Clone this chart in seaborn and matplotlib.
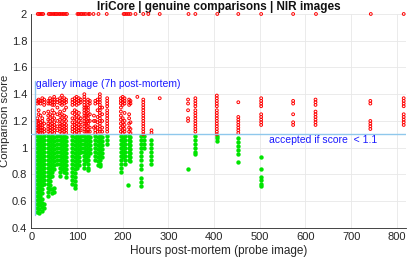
import pandas as pd
import matplotlib
matplotlib.use("Agg")
import matplotlib.pyplot as plt
from matplotlib.ticker import FormatStrFormatter
import seaborn as sns

# accepted comparisons (score < 1.1), one list of scores per probe hour
green_hours = [13, 16, 20, 24, 28, 37, 41, 46, 50, 57, 63, 67, 72, 76, 90, 95, 99, 104, 108,
               116, 120, 124, 128, 140, 145, 150, 155, 166, 196, 200, 204, 211, 214, 217,
               239, 246, 263, 343, 359, 406, 453, 503]
green_scores = [
    [1.09, 1.06, 1.03, 1.00, 0.97, 0.94, 0.91, 0.88, 0.85, 0.82, 0.79, 0.76, 0.73, 0.70, 0.67, 0.64, 0.61, 0.58, 0.55, 0.52],
    [1.08, 1.05, 1.02, 0.99, 0.96, 0.93, 0.90, 0.87, 0.84, 0.81, 0.78, 0.75, 0.72, 0.69, 0.66, 0.63, 0.60, 0.57, 0.54, 0.51],
    [1.09, 1.06, 1.03, 1.00, 0.97, 0.94, 0.91, 0.88, 0.85, 0.82, 0.79, 0.76, 0.73, 0.70, 0.67, 0.64, 0.61, 0.58],
    [1.08, 1.05, 1.02, 0.99, 0.96, 0.93, 0.90, 0.87, 0.84, 0.81, 0.78, 0.75, 0.72, 0.69, 0.66, 0.62, 0.59, 0.56, 0.53],
    [1.09, 1.06, 1.03, 1.00, 0.97, 0.94, 0.91, 0.88, 0.85, 0.82, 0.79, 0.76, 0.73, 0.58, 0.55],
    [1.09, 1.06, 1.03, 1.00, 0.97, 0.94, 0.91, 0.88, 0.85, 0.82, 0.79, 0.76, 0.73, 0.70, 0.67, 0.64],
    [1.08, 1.05, 1.02, 0.99, 0.96, 0.93, 0.90, 0.87, 0.84, 0.81, 0.78, 0.75, 0.72, 0.69],
    [1.09, 1.06, 1.03, 1.00, 0.97, 0.94, 0.91, 0.88, 0.85, 0.82, 0.79, 0.69, 0.66],
    [1.08, 1.05, 1.02, 0.99, 0.96, 0.93, 0.90, 0.87, 0.84, 0.70, 0.67],
    [1.09, 1.06, 1.03, 1.00, 0.97, 0.94, 0.91, 0.88],
    [1.09, 1.06, 1.03, 1.00, 0.97, 0.94, 0.91, 0.88, 0.85, 0.82, 0.79],
    [1.08, 1.05, 1.02, 0.99, 0.96, 0.93, 0.90, 0.87, 0.84],
    [1.09, 1.06, 1.03, 1.00, 0.97, 0.94, 0.91, 0.88, 0.85, 0.82],
    [1.08, 1.05, 1.02, 0.99, 0.96, 0.93, 0.90, 0.87, 0.84, 0.81, 0.78],
    [1.09, 1.06, 1.03, 1.00, 0.97, 0.94, 0.91, 0.88, 0.85, 0.82, 0.79, 0.76, 0.73],
    [1.08, 1.05, 1.02, 0.99, 0.96, 0.93, 0.90, 0.87, 0.84, 0.81, 0.78, 0.75, 0.72, 0.70],
    [1.09, 1.06, 1.03, 1.00, 0.97, 0.94, 0.91, 0.88, 0.85],
    [1.08, 1.05, 1.02, 0.99, 0.96, 0.93, 0.90, 0.87],
    [1.09, 1.06, 1.03, 1.00, 0.97],
    [1.09, 1.06, 1.03, 1.00, 0.97, 0.94, 0.91, 0.88, 0.85],
    [1.08, 1.05, 1.02, 0.99, 0.96, 0.93, 0.90],
    [1.09, 1.06, 1.03, 1.00, 0.97, 0.94, 0.91, 0.88, 0.85, 0.83],
    [1.08, 1.05, 1.02, 0.99, 0.96],
    [1.09, 1.06, 1.03, 1.00, 0.97, 0.94, 0.91],
    [1.08, 1.05, 1.02, 0.99, 0.96, 0.93, 0.90, 0.87],
    [1.09, 1.06, 1.03, 1.00, 0.97, 0.94, 0.91, 0.88, 0.86],
    [1.08, 1.05, 1.02, 0.99, 0.96, 0.93],
    [1.09, 1.06, 1.03],
    [1.09, 1.06, 1.03, 1.00, 0.97, 0.94, 0.91, 0.88, 0.85, 0.82],
    [1.08, 1.05, 1.02, 0.99, 0.96, 0.93],
    [1.09, 1.06, 1.03, 1.00, 0.97, 0.94, 0.91, 0.88],
    [0.72],
    [1.09, 1.06, 1.03, 1.00, 0.97, 0.94, 0.91],
    [1.08, 1.05, 1.02, 0.99, 0.96, 0.93, 0.90],
    [1.09, 1.06, 1.03, 1.00, 0.97, 0.94, 0.91, 0.87, 0.84, 0.77, 0.74, 0.71],
    [1.09, 1.06, 1.03, 1.00],
    [1.06, 1.03, 1.00, 0.97, 0.94, 0.91, 0.88],
    [0.84],
    [1.09, 1.06, 1.03, 1.00, 0.97, 0.95],
    [1.09, 1.07, 1.05],
    [1.07, 1.04, 1.01, 0.98, 0.95, 0.89],
    [0.93, 0.84, 0.78, 0.76, 0.73, 0.71],
]

# rejected comparisons (score >= 1.1)
red_hours = [13, 16, 20, 24, 28, 37, 41, 46, 50, 57, 63, 67, 72, 76, 90, 95, 99, 104, 108,
             116, 120, 124, 128, 137, 140, 145, 150, 155, 166, 196, 200, 204, 214, 217,
             232, 245, 263, 281, 343, 359, 406, 453, 503, 573, 622, 742, 815]
red_scores = [
    [1.35, 1.33, 1.22, 1.20, 1.17, 1.15, 1.13, 1.11],
    [1.36, 1.34, 1.28, 1.25, 1.20, 1.18, 1.16, 1.14, 1.12],
    [1.35, 1.33, 1.24, 1.19, 1.17, 1.15, 1.13, 1.11],
    [1.37, 1.35, 1.22, 1.20, 1.17, 1.15, 1.13, 1.11],
    [1.36, 1.34, 1.32, 1.26, 1.18, 1.14, 1.12],
    [1.35, 1.33, 1.27, 1.24, 1.21, 1.18, 1.16, 1.14, 1.12],
    [1.37, 1.35, 1.33, 1.25, 1.22, 1.20, 1.17, 1.15, 1.13, 1.11],
    [1.36, 1.34, 1.32, 1.28, 1.24, 1.21, 1.18, 1.16, 1.14, 1.12],
    [1.38, 1.36, 1.34, 1.32, 1.26, 1.22, 1.19, 1.17, 1.15, 1.13, 1.11],
    [1.36, 1.34, 1.30, 1.25, 1.20, 1.16, 1.13],
    [1.37, 1.35, 1.33, 1.27, 1.24, 1.21, 1.18, 1.16, 1.14, 1.12],
    [1.39, 1.36, 1.34, 1.32, 1.25, 1.22, 1.19, 1.17, 1.15, 1.13, 1.11],
    [1.37, 1.35, 1.33, 1.28, 1.24, 1.21, 1.18, 1.16, 1.14, 1.12],
    [1.36, 1.34, 1.30, 1.23, 1.20, 1.17, 1.15, 1.13, 1.11],
    [1.36, 1.34, 1.32, 1.26, 1.22, 1.19, 1.16, 1.14, 1.12],
    [1.37, 1.35, 1.33, 1.28, 1.25, 1.22, 1.19, 1.17, 1.15, 1.13, 1.11],
    [1.38, 1.36, 1.34, 1.32, 1.27, 1.24, 1.21, 1.18, 1.16, 1.14, 1.12],
    [1.37, 1.35, 1.33, 1.26, 1.23, 1.20, 1.17, 1.15, 1.13, 1.11],
    [1.36, 1.34, 1.22, 1.19, 1.16, 1.13],
    [1.40, 1.38, 1.36, 1.34, 1.32, 1.30, 1.28, 1.26, 1.24, 1.22, 1.20, 1.18, 1.16, 1.14, 1.12],
    [1.30, 1.27, 1.24, 1.21, 1.18, 1.15, 1.12],
    [1.36, 1.34, 1.32, 1.30, 1.28, 1.26, 1.24, 1.22, 1.20, 1.18, 1.16, 1.14, 1.12],
    [1.35, 1.33, 1.25, 1.20, 1.15, 1.12],
    [1.24, 1.20, 1.15],
    [1.35, 1.33, 1.20, 1.16, 1.13, 1.11],
    [1.36, 1.34, 1.28, 1.23, 1.19, 1.15, 1.12],
    [1.40, 1.38, 1.36, 1.34, 1.32, 1.30, 1.28, 1.26, 1.24, 1.22, 1.20, 1.18, 1.16, 1.14, 1.12],
    [1.30, 1.25, 1.20, 1.15, 1.12],
    [1.37, 1.35, 1.33, 1.31, 1.28, 1.26, 1.24, 1.22, 1.20, 1.18, 1.16, 1.14, 1.12],
    [1.37, 1.35, 1.33, 1.30, 1.27, 1.24, 1.21, 1.18, 1.15, 1.12],
    [1.38, 1.36, 1.34, 1.32, 1.22, 1.19, 1.16, 1.13, 1.11],
    [1.37, 1.35, 1.33, 1.26, 1.20, 1.17, 1.14, 1.12],
    [1.36, 1.34, 1.32, 1.25, 1.22, 1.18, 1.15, 1.12],
    [1.35, 1.33, 1.19, 1.14, 1.11],
    [1.38],
    [1.36, 1.34, 1.32, 1.30, 1.28, 1.26, 1.24, 1.22, 1.20, 1.18, 1.16, 1.14, 1.12, 1.10],
    [1.13, 1.11],
    [1.37],
    [1.36, 1.33, 1.28, 1.22, 1.20],
    [1.37, 1.35, 1.33, 1.31, 1.28, 1.26, 1.24, 1.22, 1.20, 1.18, 1.16, 1.14, 1.12],
    [1.39, 1.37, 1.35, 1.33, 1.31, 1.28, 1.26, 1.24, 1.22, 1.20, 1.18, 1.16, 1.14, 1.12, 1.10],
    [1.34, 1.23, 1.21, 1.19, 1.17, 1.15, 1.13, 1.11],
    [1.37, 1.35, 1.33, 1.31, 1.25, 1.23, 1.21, 1.19, 1.17],
    [1.35, 1.33, 1.25, 1.19, 1.17],
    [1.36, 1.34, 1.32, 1.27, 1.25, 1.23, 1.21, 1.19, 1.17],
    [1.35, 1.33, 1.20, 1.18, 1.16, 1.14],
    [1.37, 1.35, 1.33, 1.31, 1.25, 1.23, 1.21, 1.19, 1.17],
]

# failed comparisons, plotted at score 2
failed_hours = [14, 17, 20, 23, 26, 38, 41, 44, 48, 51, 54, 57, 61, 64, 68, 71, 75, 78,
                101, 104, 108, 111, 115, 119, 125, 128, 136, 147, 165,
                202, 205, 209, 213, 217, 228, 245, 256, 281, 344, 359, 407, 453,
                503, 573, 623, 743, 815]
failed_score = 2.0

threshold = 1.1
gallery_hour = 7


def to_frame(hours, scores):
    rows = [(h, s) for h, col in zip(hours, scores) for s in col]
    return pd.DataFrame(rows, columns=["hours", "score"])


green_df = to_frame(green_hours, green_scores)
red_df = to_frame(red_hours, red_scores)
failed_df = pd.DataFrame({"hours": failed_hours, "score": failed_score})

sns.set_style("white")
plt.rcParams["font.family"] = ["Liberation Sans", "DejaVu Sans"]

fig = plt.figure(figsize=(4.07, 2.59), dpi=100)
ax = fig.add_axes([0.077, 0.12, 0.9205, 0.826])

ax.axhline(threshold, color="#8fc8ec", lw=1.0, zorder=3)
ax.plot([gallery_hour, gallery_hour], [0.5, 1.5], color="#8fc8ec", lw=1.0, zorder=3)

sns.scatterplot(data=green_df, x="hours", y="score", ax=ax, color="#00e400",
                s=10, linewidth=0, zorder=2)
sns.scatterplot(data=red_df, x="hours", y="score", ax=ax, facecolors="none",
                edgecolor="#ff0000", s=4, linewidth=0.7, zorder=2)
sns.scatterplot(data=failed_df, x="hours", y="score", ax=ax, facecolors="none",
                edgecolor="#ff0000", s=4, linewidth=0.7, zorder=4, clip_on=False)

ax.text(10, 1.455, "gallery image (7h post-mortem)", color="#1a1aff", fontsize=7.5)
ax.text(521, 1.035, "accepted if score  < 1.1", color="#1a1aff", fontsize=7.5)

ax.set_xlim(0, 820)
ax.set_ylim(0.4, 2.0)
ax.set_xticks(range(0, 801, 100))
ax.set_yticks([0.4, 0.6, 0.8, 1.0, 1.2, 1.4, 1.6, 1.8, 2.0])
ax.yaxis.set_major_formatter(FormatStrFormatter("%g"))
ax.grid(True, color="#e8e8e8", lw=0.6)
ax.set_axisbelow(True)
for side in ["top", "right"]:
    ax.spines[side].set_visible(False)
for side in ["left", "bottom"]:
    ax.spines[side].set_color("#262626")
    ax.spines[side].set_linewidth(0.6)
ax.tick_params(direction="in", length=2.5, width=0.6, color="#262626",
               labelsize=8, labelcolor="#262626", pad=3)

ax.set_xlabel("Hours post-mortem (probe image)", fontsize=8.5, color="#262626", labelpad=2)
ax.set_ylabel("Comparison score", fontsize=8.2, color="#262626")
ax.yaxis.set_label_coords(-0.058, 0.5)
ax.set_title("IriCore | genuine comparisons | NIR images", fontsize=8.5,
             fontweight="bold", color="#111111", pad=3)

fig.savefig("out.png", dpi=100)
plt.close(fig)
